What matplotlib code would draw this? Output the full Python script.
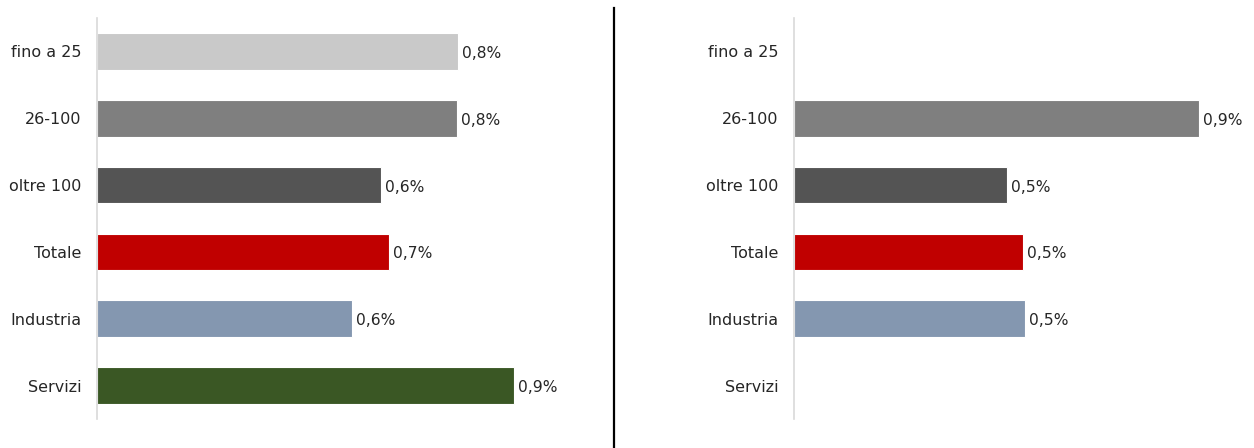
import matplotlib
matplotlib.use("Agg")
import matplotlib.pyplot as plt
from matplotlib.lines import Line2D

categories = ["fino a 25", "26-100", "oltre 100", "Totale", "Industria", "Servizi"]
colors = ["#c9c9c9", "#7f7f7f", "#545454", "#c00000", "#8497b0", "#3a5724"]
left_values = [0.811, 0.809, 0.638, 0.656, 0.573, 0.937]
right_values = [None, 0.910, 0.479, 0.515, 0.519, None]

plt.rcParams['font.family'] = ['DejaVu Sans']

W, H = 1254, 448
fig = plt.figure(figsize=(W / 100, H / 100), dpi=100)

scale = 445.0  # pixels per unit
top_px, bot_px = 18, 419

def make_axes(x0, x1, values):
    ax = fig.add_axes([x0 / W, (H - bot_px) / H, (x1 - x0) / W, (bot_px - top_px) / H])
    ax.set_xlim(0, (x1 - x0) / scale)
    ax.set_ylim(len(categories) - 0.5, -0.5)
    ys = list(range(len(categories)))
    for y, v, c in zip(ys, values, colors):
        if v is None:
            continue
        ax.barh(y, v, height=0.55, color=c, edgecolor="white", linewidth=0.8)
        ax.text(v + 4 / scale, y + 0.03, f"{v:.1f}%".replace(".", ","), va="center", ha="left",
                fontsize=11.2, color="#262626")
    ax.set_yticks(ys)
    ax.set_yticklabels(categories, fontsize=11.5, color="#262626")
    ax.tick_params(axis="y", length=0, pad=11)
    ax.set_xticks([])
    for s in ["top", "right", "bottom"]:
        ax.spines[s].set_visible(False)
    ax.spines["left"].set_color("#d9d9d9")
    ax.spines["left"].set_linewidth(1.2)
    return ax

make_axes(97, 600, left_values)
make_axes(794, 1254, right_values)

fig.add_artist(Line2D([614 / W, 614 / W], [0, (H - 8) / H], color="black", linewidth=1.6,
                      transform=fig.transFigure))

fig.savefig("out.png", dpi=100, facecolor="white")
